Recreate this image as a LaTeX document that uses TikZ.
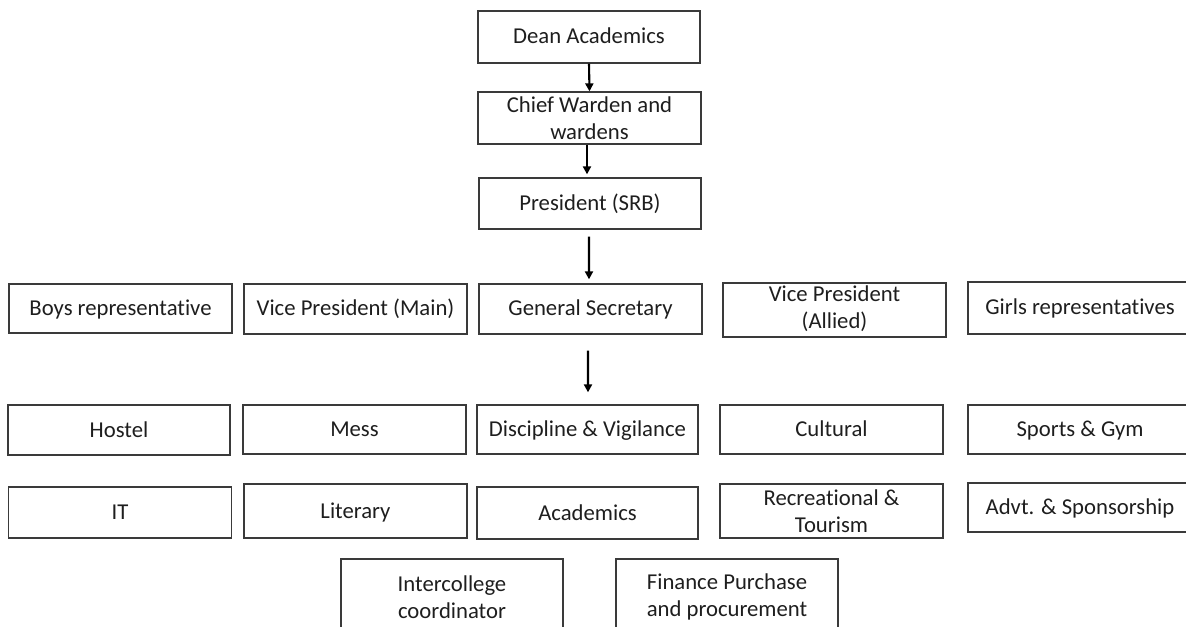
\documentclass[tikz,border=0pt]{standalone}
\usepackage{fontspec}
\setmainfont[Ligatures=CommonOff]{Carlito}
\usetikzlibrary{arrows.meta}
\definecolor{boxline}{HTML}{3A3A3A}
\definecolor{txt}{HTML}{1E1E1E}
\begin{document}
\begin{tikzpicture}[x=1bp,y=-1bp,
  box/.style={draw=boxline, line width=1.3bp, inner sep=0pt, align=center,
    text=txt, font=\fontsize{22.7bp}{27bp}\selectfont},
  sl/.style={box, text height=15bp, text depth=1bp},
  arr/.style={line width=2.1bp, -{Triangle[length=8bp,width=8bp]}}]
\useasboundingbox (0,0) rectangle (1186,627);
\clip (0,0) rectangle (1186,627);
% top chain
\node[sl, minimum width=222bp, minimum height=52bp] (dean) at (589,37) {Dean Academics};
\node[box, minimum width=223bp, minimum height=52bp] (chief) at (589.5,118) {Chief Warden and\\wardens};
\node[sl, minimum width=222bp, minimum height=51bp] (pres) at (590,203.5) {President (SRB)};
% row 2
\node[sl, minimum width=223bp, minimum height=49bp] (boys) at (120.5,308.5) {Boys representative};
\node[sl, minimum width=223bp, minimum height=50bp] (vpm) at (355.5,309) {Vice President (Main)};
\node[sl, minimum width=223bp, minimum height=50bp] (gs) at (590.5,309) {General Secretary};
\node[box, minimum width=223bp, minimum height=51bp] (vpa) at (834.5,310) {\raisebox{-5bp}{\begin{tabular}{@{}c@{}}Vice President\\(Allied)\end{tabular}}};
\node[sl, minimum width=224bp, minimum height=52bp] (girls) at (1080,308) {Girls representatives};
% row 3
\node[sl, minimum width=222bp, minimum height=50bp] (hostel) at (119,430) {Hostel};
\node[sl, minimum width=223bp, minimum height=49bp] (mess) at (354.5,429.5) {Mess};
\node[sl, minimum width=221bp, minimum height=49bp] (disc) at (587.5,429.5) {Discipline \& Vigilance};
\node[sl, minimum width=223bp, minimum height=49bp] (cult) at (831.5,429.5) {Cultural};
\node[sl, minimum width=224bp, minimum height=49bp] (sports) at (1080,429.5) {Sports \& Gym};
% row 4
\node[sl, minimum width=223bp, minimum height=51bp] (it) at (120,512.5) {IT};
\node[sl, minimum width=223bp, minimum height=54bp] (lit) at (355.5,511) {Literary};
\node[sl, minimum width=221bp, minimum height=52bp] (acad) at (587.5,513) {Academics};
\node[box, minimum width=223bp, minimum height=54bp] (rec) at (831.5,511) {Recreational \&\\Tourism};
\node[sl, minimum width=224bp, minimum height=49bp] (advt) at (1080,507.5) {Advt. \& Sponsorship};
% row 5
\node[box, minimum width=222bp, minimum height=76bp] (inter) at (452,597) {Intercollege\\coordinator};
\node[box, minimum width=222bp, minimum height=76bp] (fin) at (727,597) {Finance Purchase\\and procurement};
% arrows
\draw[arr] (dean.south) -- (chief.north);
\draw[arr, shorten >=3bp] ([xshift=-2.5bp]chief.south) -- ([xshift=-3bp]pres.north);
\draw[arr, shorten <=7bp, shorten >=4bp] ([xshift=-1bp]pres.south) -- ([xshift=-1.5bp]gs.north);
\draw[arr, shorten <=16bp, shorten >=12bp] ([xshift=-2.5bp]gs.south) -- ([xshift=0.5bp]disc.north);
\end{tikzpicture}
\end{document}
